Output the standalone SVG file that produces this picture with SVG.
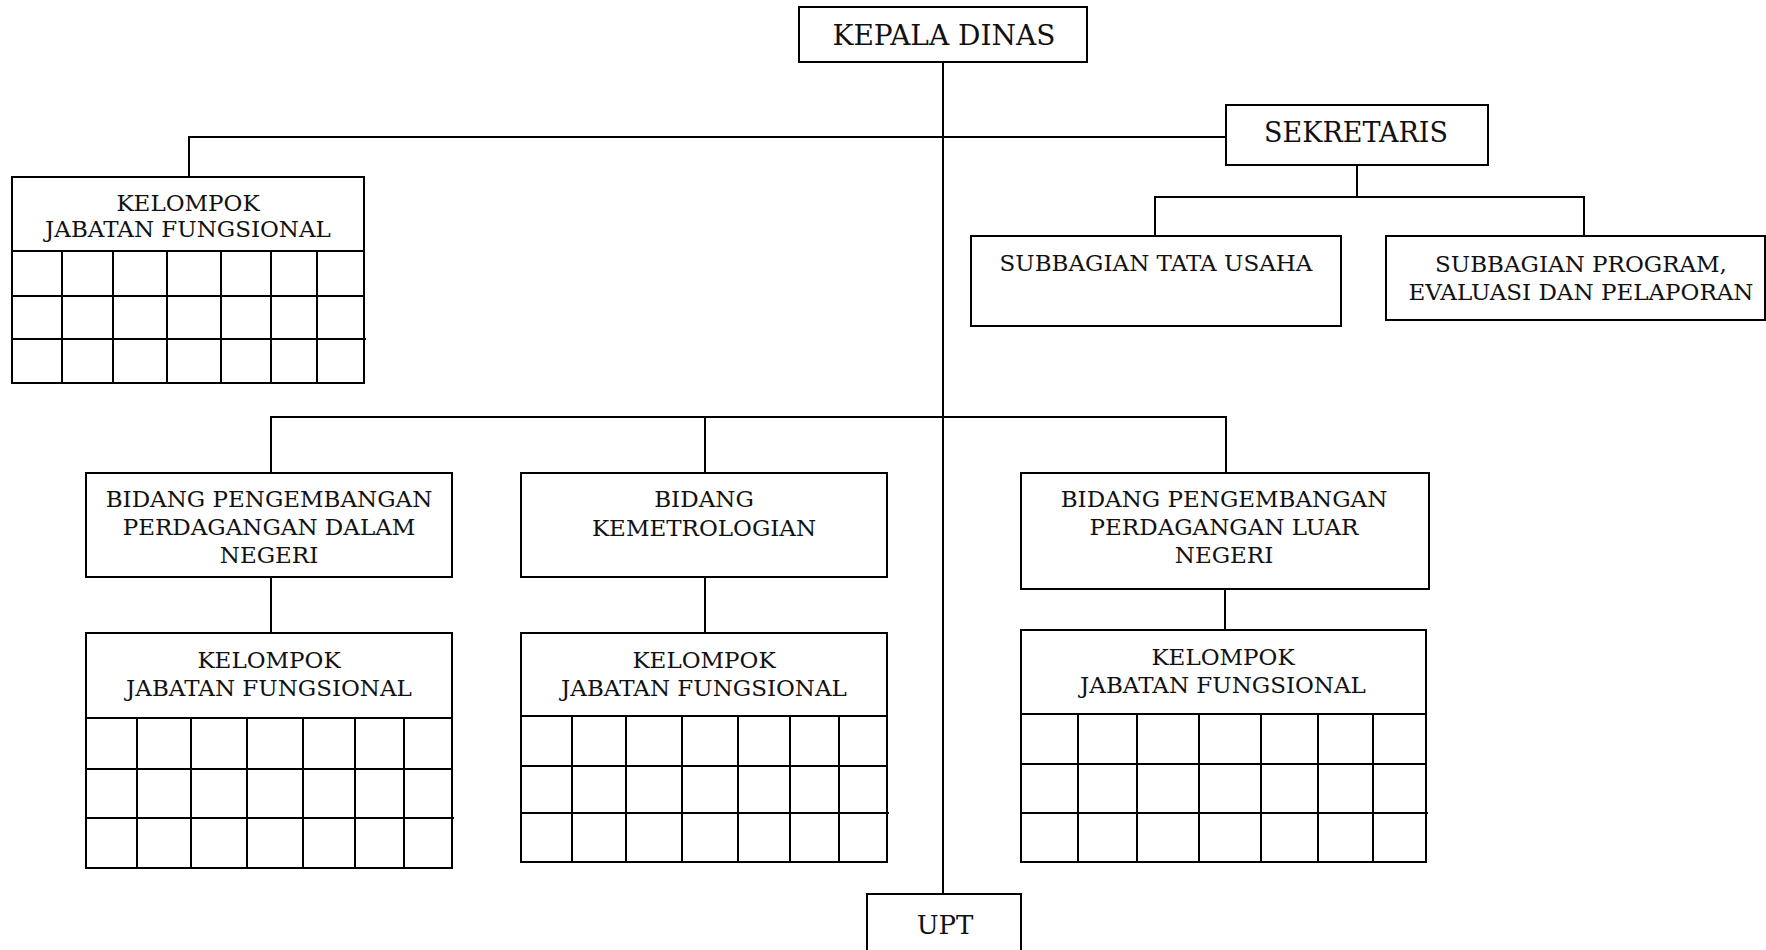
<svg xmlns="http://www.w3.org/2000/svg" width="1766" height="950" viewBox="0 0 1766 950">
<style>
.box{fill:#fff;stroke:#000;stroke-width:2}
.ln{fill:none;stroke:#000;stroke-width:2}
.t{font-family:"DejaVu Serif","Liberation Serif",serif;font-size:23px;fill:#111;text-anchor:middle}
.big{font-size:28px}
.mid{font-size:27px}
.upt{font-size:26px}
</style>
<rect width="1766" height="950" fill="#fff"/>
<g id="connectors" class="ln">
<path d="M943 62V894"/>
<path d="M189 177V137H1226"/>
<path d="M1357 166V197M1155 236V197H1584V236"/>
<path d="M271 473V417H1226V473"/>
<path d="M705 417V473"/>
<path d="M271 577V633"/>
<path d="M705 577V633"/>
<path d="M1225 589V630"/>
</g>
<g id="kepala-dinas">
<rect class="box" x="799" y="7" width="288" height="55"/>
<text class="t big" x="944" y="45">KEPALA DINAS</text>
</g>
<g id="sekretaris">
<rect class="box" x="1226" y="105" width="262" height="60"/>
<text class="t mid" x="1356" y="142">SEKRETARIS</text>
</g>
<g id="subbagian-tu">
<rect class="box" x="971" y="236" width="370" height="90"/>
<text class="t" x="1156" y="271">SUBBAGIAN TATA USAHA</text>
</g>
<g id="subbagian-program">
<rect class="box" x="1386" y="236" width="379" height="84"/>
<text class="t" x="1581" y="272">SUBBAGIAN PROGRAM,</text>
<text class="t" x="1581" y="300">EVALUASI DAN PELAPORAN</text>
</g>
<g id="kjf-sekretariat">
<rect class="box" x="12" y="177" width="352" height="206"/>
<path class="ln" d="M12 251H364M12 296H364M12 339H366M62 251V383M113 251V383M167 251V383M221 251V383M271 251V383M317 251V383"/>
<text class="t" x="188" y="211">KELOMPOK</text>
<text class="t" x="188" y="237">JABATAN FUNGSIONAL</text>
</g>
<g id="bidang-pdn">
<rect class="box" x="86" y="473" width="366" height="104"/>
<text class="t" x="269" y="507">BIDANG PENGEMBANGAN</text>
<text class="t" x="269" y="535">PERDAGANGAN DALAM</text>
<text class="t" x="269" y="563">NEGERI</text>
</g>
<g id="kjf-pdn">
<rect class="box" x="86" y="633" width="366" height="235"/>
<path class="ln" d="M86 718H452M86 769H452M86 818H454M137 718V868M191 718V868M247 718V868M303 718V868M355 718V868M404 718V868"/>
<text class="t" x="269" y="668">KELOMPOK</text>
<text class="t" x="269" y="696">JABATAN FUNGSIONAL</text>
</g>
<g id="bidang-kemetrologian">
<rect class="box" x="521" y="473" width="366" height="104"/>
<text class="t" x="704" y="507">BIDANG</text>
<text class="t" x="704" y="536">KEMETROLOGIAN</text>
</g>
<g id="kjf-kemetrologian">
<rect class="box" x="521" y="633" width="366" height="229"/>
<path class="ln" d="M521 716H887M521 766H887M521 813H889M572 716V862M626 716V862M682 716V862M738 716V862M790 716V862M839 716V862"/>
<text class="t" x="704" y="668">KELOMPOK</text>
<text class="t" x="704" y="696">JABATAN FUNGSIONAL</text>
</g>
<g id="bidang-pln">
<rect class="box" x="1021" y="473" width="408" height="116"/>
<text class="t" x="1224" y="507">BIDANG PENGEMBANGAN</text>
<text class="t" x="1224" y="535">PERDAGANGAN LUAR</text>
<text class="t" x="1224" y="563">NEGERI</text>
</g>
<g id="kjf-pln">
<rect class="box" x="1021" y="630" width="405" height="232"/>
<path class="ln" d="M1021 714H1426M1021 764H1426M1021 813H1428M1078 714V862M1137 714V862M1199 714V862M1261 714V862M1318 714V862M1373 714V862"/>
<text class="t" x="1223" y="665">KELOMPOK</text>
<text class="t" x="1223" y="693">JABATAN FUNGSIONAL</text>
</g>
<g id="upt">
<rect class="box" x="867" y="894" width="154" height="70"/>
<text class="t upt" x="945" y="934">UPT</text>
</g>
</svg>
